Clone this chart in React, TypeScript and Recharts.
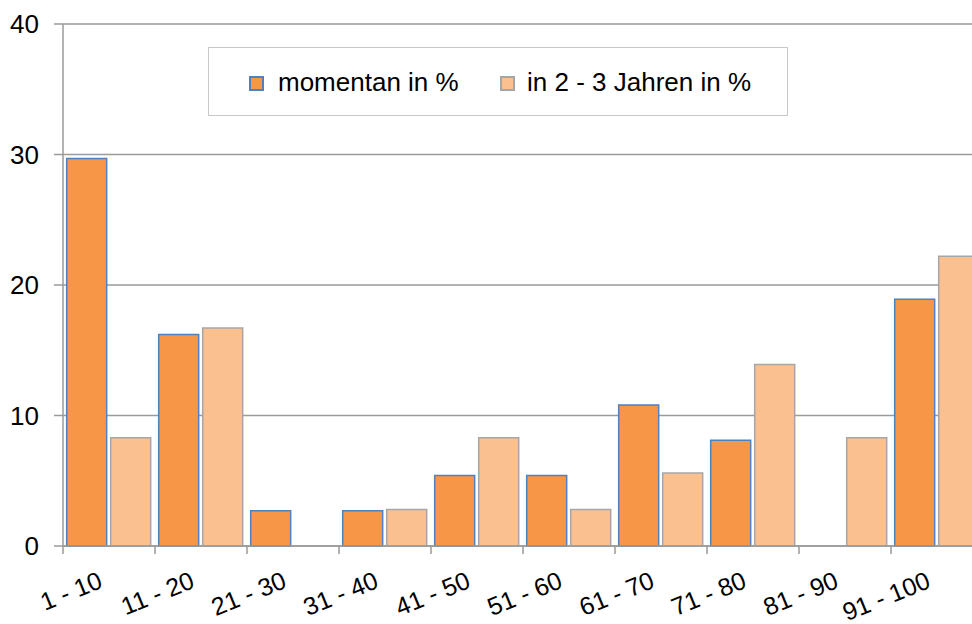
import { Bar, BarChart, CartesianGrid, Legend, XAxis, YAxis } from 'recharts'

// Anteile in % je Bereich
const CATEGORIES = ['1 - 10', '11 - 20', '21 - 30', '31 - 40', '41 - 50', '51 - 60', '61 - 70', '71 - 80', '81 - 90', '91 - 100']
const MOMENTAN = [29.7, 16.2, 2.7, 2.7, 5.4, 5.4, 10.8, 8.1, 0, 18.9]
const IN_2_3_JAHREN = [8.3, 16.7, 0, 2.8, 8.3, 2.8, 5.6, 13.9, 8.3, 22.2]
const Y_TICKS = [0, 10, 20, 30, 40]
const SERIES_NAMES = ['momentan in %', 'in 2 - 3 Jahren in %']

const FONT = '"Liberation Sans", Arial, sans-serif'
const FONT_SIZE = 26
const AXIS_GRAY = '#9a9a9a'
const ORANGE = '#F79646'
const ORANGE_BORDER = '#4F81BD'
const LIGHT = '#FAC090'
const LIGHT_BORDER = '#A6A6A6'

const data = CATEGORIES.map((name, i) => ({
  name,
  momentan: MOMENTAN[i],
  spaeter: IN_2_3_JAHREN[i],
}))

interface TickProps {
  x?: number | string
  y?: number | string
  index?: number
  payload?: { value: string; offset?: number }
}

// rotated label plus tick marks on the category edges (half a band left / right)
function CategoryTick({ x, y, index, payload }: TickProps) {
  if (!payload) return null
  const px = Number(x)
  const py = Number(y)
  const half = payload.offset ?? 0
  const isLast = index === CATEGORIES.length - 1
  return (
    <g>
      {half > 0 && (
        <line x1={px - half} x2={px - half} y1={py} y2={py + 8} stroke={AXIS_GRAY} strokeWidth={1.5} />
      )}
      {half > 0 && isLast && (
        <line x1={px + half} x2={px + half} y1={py} y2={py + 8} stroke={AXIS_GRAY} strokeWidth={1.5} />
      )}
      <text
        transform={`translate(${px - 5},${py + 41}) rotate(-22)`}
        textAnchor='end'
        fill='#000'
        style={{ fontFamily: FONT, fontSize: 25 }}
      >
        {payload.value}
      </text>
    </g>
  )
}

function LegendBox() {
  const swatch = (fill: string, border: string, left: number) => (
    <div
      style={{
        position: 'absolute',
        left,
        top: 28,
        width: 15,
        height: 15,
        boxSizing: 'border-box',
        background: fill,
        border: `2px solid ${border}`,
      }}
    />
  )
  const label = (text: string, left: number) => (
    <div
      style={{
        position: 'absolute',
        left,
        top: 19,
        fontFamily: FONT,
        fontSize: FONT_SIZE,
        lineHeight: '30px',
        color: '#000',
        whiteSpace: 'nowrap',
      }}
    >
      {text}
    </div>
  )
  return (
    <div
      style={{
        position: 'relative',
        width: 580,
        height: 69,
        boxSizing: 'border-box',
        border: '1.5px solid #c8c8c8',
        background: '#fff',
      }}
    >
      {swatch(ORANGE, ORANGE_BORDER, 40)}
      {label(SERIES_NAMES[0], 69)}
      {swatch(LIGHT, LIGHT_BORDER, 291)}
      {label(SERIES_NAMES[1], 318)}
    </div>
  )
}

export default function App() {
  return (
    <div style={{ width: 972, height: 624, overflow: 'hidden', background: '#fff' }}>
      <style>{'body{margin:0}'}</style>
      <BarChart
        width={992}
        height={624}
        data={data}
        margin={{ top: 24, right: 9, left: 0, bottom: 0 }}
        barCategoryGap='4%'
        barGap={4}
      >
        <CartesianGrid vertical={false} stroke={AXIS_GRAY} strokeWidth={1.5} />
        <XAxis
          dataKey='name'
          interval={0}
          height={78}
          tickSize={0}
          tickMargin={0}
          tickLine={false}
          axisLine={{ stroke: AXIS_GRAY, strokeWidth: 1.5 }}
          tick={CategoryTick}
        />
        <YAxis
          domain={[0, 40]}
          ticks={Y_TICKS}
          interval={0}
          width={63}
          tickSize={9}
          tickMargin={15}
          axisLine={{ stroke: AXIS_GRAY, strokeWidth: 1.5 }}
          tickLine={{ stroke: AXIS_GRAY, strokeWidth: 1.5 }}
          tick={{ fill: '#000', fontFamily: FONT, fontSize: FONT_SIZE }}
        />
        <Legend
          layout='horizontal'
          verticalAlign='middle'
          align='center'
          wrapperStyle={{ left: 208, top: 47, width: 580, height: 69 }}
          content={() => <LegendBox />}
        />
        <Bar
          dataKey='momentan'
          name={SERIES_NAMES[0]}
          fill={ORANGE}
          stroke={ORANGE_BORDER}
          strokeWidth={1.5}
          isAnimationActive={false}
        />
        <Bar
          dataKey='spaeter'
          name={SERIES_NAMES[1]}
          fill={LIGHT}
          stroke={LIGHT_BORDER}
          strokeWidth={1.5}
          isAnimationActive={false}
        />
      </BarChart>
    </div>
  )
}
